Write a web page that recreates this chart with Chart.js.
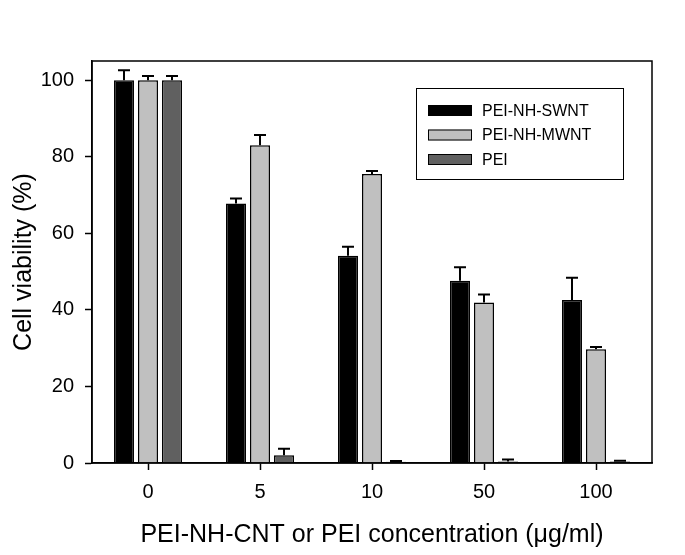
<!DOCTYPE html>
<html>
<head>
<meta charset="utf-8">
<script src="https://cdn.jsdelivr.net/npm/chart.js@4/dist/chart.umd.min.js"></script>
<style>
  html, body { margin: 0; padding: 0; background: #fff; }
  #wrap { width: 685px; height: 555px; }
</style>
</head>
<body>
<div id="wrap"><canvas id="chart" width="685" height="555"></canvas></div>
<script>
  // концентрации (µg/ml)
  const categories = ["0", "5", "10", "50", "100"];
  const yTicks = [0, 20, 40, 60, 80, 100];

  const swnt = [100, 67.8, 54.1, 47.6, 42.6];
  const swntErr = [2.6, 1.3, 2.4, 3.5, 5.8];

  const mwnt = [100, 83.0, 75.5, 41.9, 29.7];
  const mwntErr = [1.1, 2.7, 0.8, 2.1, 0.6];

  const pei = [100, 2.0, 0.3, 0.4, 0.4];
  const peiErr = [1.1, 1.7, 0.2, 0.5, 0.2];

  const FONT = "Arial, 'Liberation Sans', sans-serif";

  // верхние "усы" погрешностей
  const errorBars = {
    id: "errorBars",
    afterDatasetsDraw(chart) {
      const { ctx } = chart;
      const yScale = chart.scales.y;
      ctx.save();
      ctx.strokeStyle = "#000";
      ctx.lineWidth = 2;
      chart.data.datasets.forEach((ds, i) => {
        const meta = chart.getDatasetMeta(i);
        meta.data.forEach((bar, j) => {
          const top = yScale.getPixelForValue(ds.data[j]);
          const end = yScale.getPixelForValue(ds.data[j] + ds.errors[j]);
          ctx.beginPath();
          ctx.moveTo(bar.x, top);
          ctx.lineTo(bar.x, end);
          ctx.moveTo(bar.x - 6, end);
          ctx.lineTo(bar.x + 6, end);
          ctx.stroke();
        });
      });
      ctx.restore();
    },
  };

  // рамка вокруг области графика + легенда
  const frameAndLegend = {
    id: "frameAndLegend",
    afterDraw(chart) {
      const { ctx, chartArea: a } = chart;
      ctx.save();
      ctx.strokeStyle = "#000";
      ctx.lineWidth = 1.5;
      ctx.strokeRect(a.left, a.top, a.right - a.left, a.bottom - a.top);

      // легенда
      const lx = 416, ly = 88, lw = 207, lh = 91;
      ctx.fillStyle = "#fff";
      ctx.fillRect(lx, ly, lw, lh);
      ctx.lineWidth = 1;
      ctx.strokeRect(lx + 0.5, ly + 0.5, lw, lh);
      ctx.font = "16px " + FONT;
      ctx.textBaseline = "middle";
      chart.data.datasets.forEach((ds, i) => {
        const cy = ly + 22.5 + i * 24.5;
        ctx.fillStyle = ds.backgroundColor;
        ctx.fillRect(428, cy - 5.5, 44, 11);
        ctx.lineWidth = 1;
        ctx.strokeStyle = "#000";
        ctx.strokeRect(428.5, cy - 5, 43, 10);
        ctx.fillStyle = "#000";
        ctx.fillText(ds.label, 482, cy + 1);
      });
      ctx.restore();
    },
  };

  const barStyle = {
    borderColor: "#000",
    borderWidth: 1.5,
    borderSkipped: "bottom",
    categoryPercentage: 0.643,
    barPercentage: 0.833,
  };

  new Chart(document.getElementById("chart"), {
    type: "bar",
    data: {
      labels: categories,
      datasets: [
        { label: "PEI-NH-SWNT", data: swnt, errors: swntErr, backgroundColor: "#000000", ...barStyle },
        { label: "PEI-NH-MWNT", data: mwnt, errors: mwntErr, backgroundColor: "#c0c0c0", ...barStyle },
        { label: "PEI", data: pei, errors: peiErr, backgroundColor: "#606060", ...barStyle },
      ],
    },
    options: {
      responsive: false,
      animation: false,
      layout: { padding: { top: 61, right: 33, left: 0, bottom: 0 } },
      plugins: {
        legend: { display: false },
        tooltip: { enabled: false },
      },
      scales: {
        x: {
          afterFit: (s) => { s.height = 92; },
          grid: {
            offset: false,
            drawOnChartArea: false,
            drawTicks: true,
            tickLength: 7,
            tickWidth: 1.5,
            color: "#000",
          },
          border: { color: "#000", width: 1.5 },
          ticks: { color: "#000", padding: 10, font: { family: FONT, size: 20 } },
          title: {
            display: true,
            text: "PEI-NH-CNT or PEI concentration (\u03bcg/ml)",
            color: "#000",
            font: { family: FONT, size: 25 },
            padding: { top: 0, bottom: 5 },
          },
        },
        y: {
          min: 0,
          max: 105,
          afterFit: (s) => { s.width = 92; },
          afterBuildTicks: (s) => { s.ticks = yTicks.map((v) => ({ value: v })); },
          grid: {
            drawOnChartArea: false,
            drawTicks: true,
            tickLength: 7,
            tickWidth: 1.5,
            color: "#000",
          },
          border: { color: "#000", width: 1.5 },
          ticks: { color: "#000", padding: 11, font: { family: FONT, size: 20 } },
          title: {
            display: true,
            text: "Cell viability (%)",
            color: "#000",
            font: { family: FONT, size: 25 },
            padding: { top: 9, bottom: 0 },
          },
        },
      },
    },
    plugins: [errorBars, frameAndLegend],
  });
</script>
</body>
</html>
